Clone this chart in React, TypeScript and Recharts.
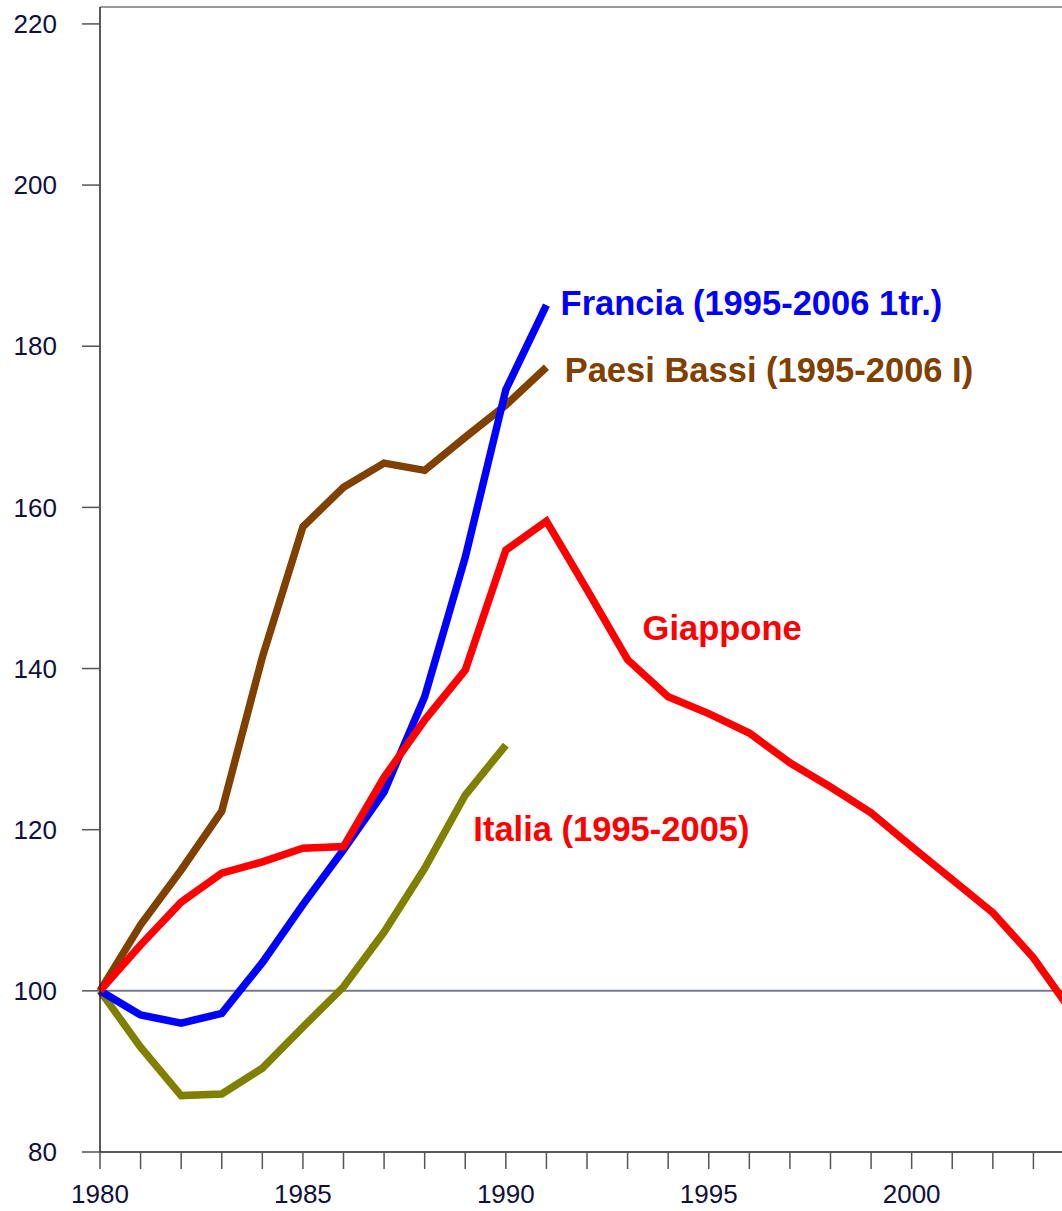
import { LineChart, Line, XAxis, YAxis, ReferenceLine, ReferenceDot } from 'recharts';

// years shown on the axis (the last one falls just past the right edge)
const years = [1980, 1981, 1982, 1983, 1984, 1985, 1986, 1987, 1988, 1989, 1990, 1991, 1992, 1993, 1994, 1995, 1996, 1997, 1998, 1999, 2000, 2001, 2002, 2003, 2004];

// index values, 1980 = 100
const giappone = [100, 105.7, 111.0, 114.6, 116.0, 117.7, 117.9, 126.5, 133.6, 139.8, 154.7, 158.3, 149.8, 141.1, 136.5, 134.4, 132.0, 128.3, 125.3, 122.1, 117.9, 113.8, 109.7, 104.1, 97.0];
const francia = [100, 97.0, 96.0, 97.2, 103.5, 110.7, 117.5, 124.7, 136.5, 153.8, 174.6, 185.1];
const paesiBassi = [100, 108.2, 115.0, 122.3, 141.4, 157.6, 162.5, 165.5, 164.6, 168.7, 172.7, 177.4];
const italia = [100, 93.0, 87.0, 87.2, 90.4, 95.5, 100.5, 107.3, 115.2, 124.3, 130.5];

const yTicks = [80, 100, 120, 140, 160, 180, 200, 220];
const yMax = 222.1;

// text notes placed in data coordinates (left end of baseline)
const notes = [
  { text: 'Francia (1995-2006 1tr.)', year: 1991.35, value: 183.9, color: '#0000ff' },
  { text: 'Paesi Bassi (1995-2006 I)', year: 1991.45, value: 175.6, color: '#804000' },
  { text: 'Giappone', year: 1993.37, value: 143.6, color: '#ff0000' },
  { text: 'Italia (1995-2005)', year: 1989.2, value: 118.6, color: '#ff0000' },
];

const data = years.map((year, i) => ({
  year,
  giappone: giappone[i] ?? null,
  francia: francia[i] ?? null,
  paesiBassi: paesiBassi[i] ?? null,
  italia: italia[i] ?? null,
}));

const font = '"Liberation Sans", Arial, sans-serif';

function NoteLabel(props: any) {
  const { viewBox, value, color } = props;
  return (
    <text x={viewBox.x} y={viewBox.y} fill={color} fontSize={34.5} fontWeight="bold" fontFamily={font}>
      {value}
    </text>
  );
}

export default function App() {
  return (
    <div style={{ position: 'absolute', left: 0, top: 0, width: 1062, height: 1211, overflow: 'hidden', background: '#fff' }}>
      <LineChart width={1074} height={1211} data={data} margin={{ top: 7, right: 0, bottom: 0, left: 0 }}>
        <XAxis
          dataKey="year"
          type="number"
          domain={[1980, 2004]}
          ticks={years}
          interval={0}
          tickFormatter={(v: number) => (v % 5 === 0 ? String(v) : '')}
          height={59}
          tickSize={17}
          tickMargin={16}
          axisLine={{ stroke: '#222', strokeWidth: 1.5 }}
          tickLine={{ stroke: '#555', strokeWidth: 1.5 }}
          tick={{ fill: '#10103a', fontSize: 26, fontFamily: font }}
        />
        <YAxis
          type="number"
          domain={[80, yMax]}
          ticks={yTicks}
          interval={0}
          width={100}
          tickSize={18}
          tickMargin={25}
          axisLine={{ stroke: '#222', strokeWidth: 1.5 }}
          tickLine={{ stroke: '#555', strokeWidth: 1.5 }}
          tick={{ fill: '#10103a', fontSize: 26, fontFamily: font }}
        />
        <ReferenceLine y={yMax} stroke="#777" strokeWidth={1.5} />
        <ReferenceLine y={100} stroke="#777a8c" strokeWidth={2} />
        <Line type="linear" dataKey="italia" stroke="#808000" strokeWidth={7.5} dot={false} isAnimationActive={false} />
        <Line type="linear" dataKey="paesiBassi" stroke="#804000" strokeWidth={7.5} dot={false} isAnimationActive={false} />
        <Line type="linear" dataKey="francia" stroke="#0000ff" strokeWidth={7.5} dot={false} isAnimationActive={false} />
        <Line type="linear" dataKey="giappone" stroke="#ff0000" strokeWidth={7.5} dot={false} isAnimationActive={false} />
        {notes.map((n) => (
          <ReferenceDot
            key={n.text}
            x={n.year}
            y={n.value}
            r={0}
            fill="none"
            stroke="none"
            label={<NoteLabel value={n.text} color={n.color} />}
          />
        ))}
      </LineChart>
    </div>
  );
}
